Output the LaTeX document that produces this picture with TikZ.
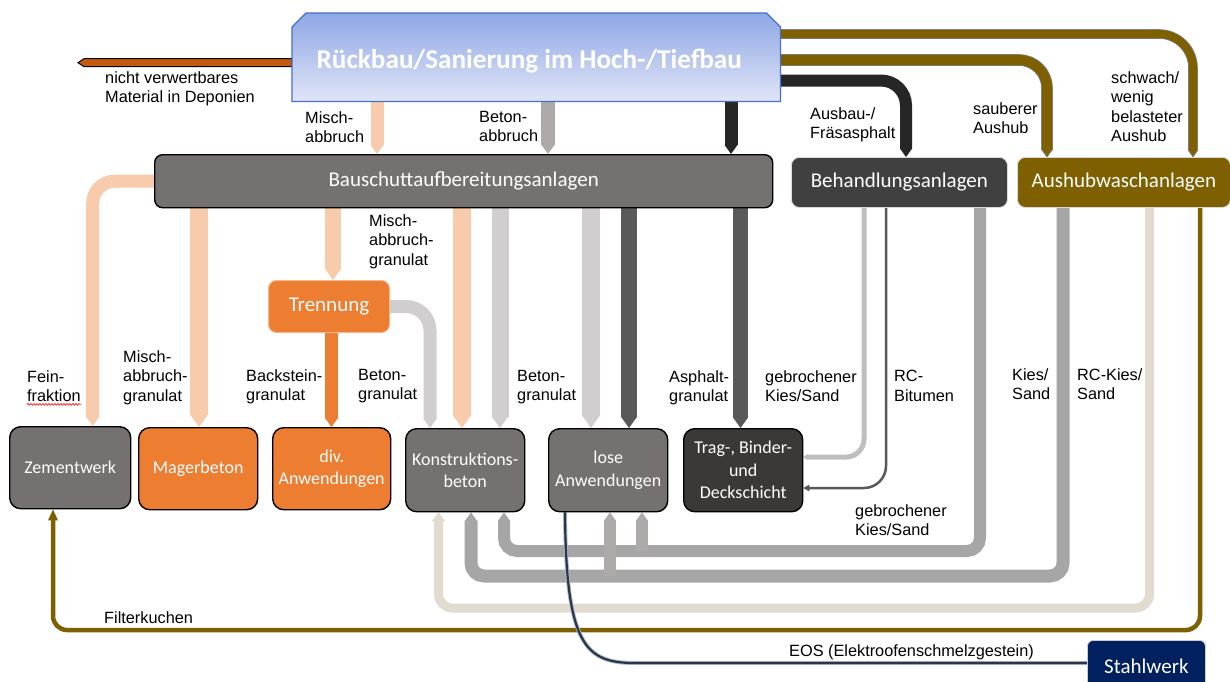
\documentclass[tikz,border=0pt]{standalone}
\usepackage{fontspec}
\setmainfont{Liberation Sans}
\newfontfamily\boxfont{Carlito}
\usetikzlibrary{calc,decorations.pathmorphing}

\definecolor{peach}{HTML}{F8CBAD}
\definecolor{orangeC}{HTML}{ED7D31}
\definecolor{boxgray}{HTML}{767171}
\definecolor{ltgray}{HTML}{D0CECE}
\definecolor{thingray}{HTML}{BFBFBF}
\definecolor{midgray}{HTML}{AEAAAA}
\definecolor{loopgray}{HTML}{A6A6A6}
\definecolor{dk}{HTML}{262626}
\definecolor{dkgray}{HTML}{595959}
\definecolor{behfill}{HTML}{404040}
\definecolor{tragfill}{HTML}{3B3838}
\definecolor{brownC}{HTML}{7F6000}
\definecolor{pipeedge}{HTML}{7F7F7F}
\definecolor{navy}{HTML}{002060}
\definecolor{eos}{HTML}{2B3648}
\definecolor{eosedge}{HTML}{ADB9CA}
\definecolor{beige}{HTML}{E2DCD0}
\definecolor{rust}{HTML}{C55A11}
\definecolor{topA}{HTML}{8FA7E5}
\definecolor{topB}{HTML}{E0E5F7}
\definecolor{topedge}{HTML}{4472C4}

\pgfdeclarelayer{bg}
\pgfdeclarelayer{mid}
\pgfsetlayers{bg,mid,main}

% arrow heads of the broad flow bands: colour, width, length, tip point
\newcommand\tipD[4]{\fill[#1] ($#4+(-#2/2,-#3)$) -- ($#4+(#2/2,-#3)$) -- #4 -- cycle;}
\newcommand\tipU[4]{\fill[#1] ($#4+(-#2/2,#3)$) -- ($#4+(#2/2,#3)$) -- #4 -- cycle;}
\newcommand\tipL[4]{\fill[#1] ($#4+(#3,-#2/2)$) -- ($#4+(#3,#2/2)$) -- #4 -- cycle;}
% head with an outlined rim: fill, rim, width, length, tip point
\newcommand\tipDe[5]{%
  \fill[#1] ($#5+(-#3/2,-#4)$) -- ($#5+(#3/2,-#4)$) -- #5 -- cycle;
  \draw[#2, line width=0.8pt, line join=miter] ($#5+(-#3/2,-#4)$) -- #5 -- ($#5+(#3/2,-#4)$);}
% straight downward band at x=#3 from anchor #4 to anchor #5
\newcommand\fatdn[5]{%
  \pgfmathsetmacro\fatlen{0.7*#2}%
  \pgfmathsetmacro\fatsh{0.7*#2-0.5}%
  \draw[#1, line width=#2pt, shorten >=\fatsh pt] (#4 -| #3,0) -- (#5 -| #3,0);
  \tipD{#1}{#2}{\fatlen}{(#5 -| #3,0)}}

\begin{document}
\begin{tikzpicture}[x=1pt,y=-1pt,
  lab/.style={anchor=north west, inner sep=0pt, align=left,
    font=\fontsize{16.3}{19.5}\selectfont},
  blk/.style={anchor=north west, inner sep=2pt, align=center, text=white,
    font=\boxfont\fontsize{18}{22.5}\selectfont, rounded corners=11pt,
    draw=black, line width=1.4pt},
  hub/.style={anchor=north west, inner sep=2pt, align=center, text=white,
    font=\boxfont\fontsize{21}{24}\selectfont, rounded corners=8pt},
]
\useasboundingbox (0,0) rectangle (1230,681);
\clip (0,0) rectangle (1230,681);

% ---------- plants and consumers ----------
\node[anchor=north west, minimum width=488pt, minimum height=88pt, inner sep=0pt,
  text=white, font=\boxfont\bfseries\fontsize{27.2}{30}\selectfont]
  (top) at (292,13) {\hspace*{-14pt}\raisebox{-11pt}[0pt][0pt]{Rückbau/Sanierung im Hoch-/Tiefbau}};

\node[hub, fill=boxgray, draw=black, line width=1.4pt, minimum width=618pt, minimum height=53pt]
  (bau) at (154,154) {Bauschuttaufbereitungsanlagen};
\node[hub, fill=behfill, draw=white!85!black, line width=0.8pt, minimum width=216pt, minimum height=50pt]
  (beh) at (791,157) {Behandlungsanlagen};
\node[hub, fill=brownC, draw=white!85!black, line width=0.8pt, minimum width=213pt, minimum height=50pt]
  (aus) at (1017,157) {Aushubwaschanlagen};
\node[hub, fill=orangeC, draw=orangeC!55, line width=1pt, minimum width=121pt, minimum height=52pt]
  (tren) at (268,280) {Trennung};

\node[blk, fill=boxgray, minimum width=121pt, minimum height=82pt] (zem) at (9,426) {Zementwerk};
\node[blk, fill=orangeC, minimum width=119pt, minimum height=82pt] (mag) at (138,427) {Magerbeton};
\node[blk, fill=orangeC, minimum width=118pt, minimum height=82pt] (div) at (272,427) {div.\\Anwendungen};
\node[blk, fill=boxgray, minimum width=119pt, minimum height=83pt] (kon) at (405,428) {Konstruktions-\\beton};
\node[blk, fill=boxgray, minimum width=119pt, minimum height=83pt] (los) at (548,428) {lose\\Anwendungen};
\node[blk, fill=tragfill, minimum width=119pt, minimum height=83pt] (trag) at (683,428) {Trag-, Binder-\\und\\Deckschicht};

\node[hub, fill=navy, draw=white!80!black, line width=0.8pt, rounded corners=6pt,
  minimum width=118pt, minimum height=52pt] (stahl) at (1087,640) {Stahlwerk};

% demolition site: box with bevelled upper corners and a blue gradient
\begin{pgfonlayer}{mid}
\path[draw=topedge, line width=1.2pt, top color=topA, bottom color=topB]
  (top.south west) -- ($(top.north west)+(0,14)$) -- ($(top.north west)+(14,0)$)
  -- ($(top.north east)+(-14,0)$) -- ($(top.north east)+(0,14)$) -- (top.south east) -- cycle;
\end{pgfonlayer}

% ---------- material flows ----------
\begin{pgfonlayer}{bg}
\fill[white] (0,0) rectangle (1230,681);

% not recyclable, to landfill
\coordinate (dep) at (78,62.7);
\filldraw[fill=rust, draw=black, line width=1pt]
  (top.west |- 0,58.7) -- (84,58.7) -- (dep) -- (84,66.7) -- (top.west |- 0,66.7) -- cycle;

% demolition to the processing plant
\fatdn{peach}{13}{377}{top.south}{bau.north}
\fatdn{midgray}{14}{548}{top.south}{bau.north}
\fatdn{dk}{13}{731}{top.south}{bau.north}

% milled asphalt and excavation
\draw[dk, line width=12pt, rounded corners=25pt, shorten >=7.9pt]
  (top.east |- 0,80.5) -- (906,80.5) -- (beh.north -| 906,0);
\tipD{dk}{12}{8.4}{(beh.north -| 906,0)}
\draw[draw=pipeedge, line width=0.8pt, double=brownC, double distance=10pt,
  rounded corners=28pt, shorten >=7pt]
  (top.east |- 0,60) -- (1047,60) -- (aus.north -| 1047,0);
\tipDe{brownC}{pipeedge}{11.6}{8}{(aus.north -| 1047,0)}
\draw[draw=pipeedge, line width=0.8pt, double=brownC, double distance=8pt,
  rounded corners=34pt, shorten >=6pt]
  (top.east |- 0,34) -- (1193,34) -- (aus.north -| 1193,0);
\tipDe{brownC}{pipeedge}{9.6}{7}{(aus.north -| 1193,0)}

% fine fraction to the cement plant
\draw[peach, line width=13pt, rounded corners=22pt, shorten >=8.6pt]
  (bau.west) -- (bau.west -| 92.7,0) -- (zem.north -| 92.7,0);
\tipD{peach}{13}{9.1}{(zem.north -| 92.7,0)}

% recycled aggregates
\fatdn{peach}{18}{199}{bau.south}{mag.north}
\fatdn{peach}{16}{333}{bau.south}{tren.north}
\fatdn{orangeC}{13}{331.5}{tren.south}{div.north}
\draw[ltgray, line width=13pt, rounded corners=24pt, shorten >=8.6pt]
  (tren.east) -- (tren.east -| 430,0) -- (kon.north -| 430,0);
\tipD{ltgray}{13}{9.1}{(kon.north -| 430,0)}
\fatdn{peach}{18}{462}{bau.south}{kon.north}
\fatdn{ltgray}{17}{500}{bau.south}{kon.north}
\fatdn{ltgray}{18}{591}{bau.south}{los.north}
\fatdn{dkgray}{16}{629}{bau.south}{los.north}
\fatdn{dkgray}{15}{740.5}{bau.south}{trag.north}

% treatment plant to asphalt layers
\draw[thingray, line width=5pt, rounded corners=18pt, shorten >=3.5pt]
  (beh.south -| 864,0) -- (864,457) -- (trag.east |- 0,457);
\tipL{thingray}{6}{4}{(trag.east |- 0,457)}
\draw[dkgray, line width=2.5pt, rounded corners=22pt, shorten >=5pt]
  (beh.south -| 886,0) -- (886,488) -- (trag.east |- 0,488);
\tipL{dkgray}{7}{6}{(trag.east |- 0,488)}

% return loops below the consumers
\draw[beige, line width=9pt, rounded corners=14pt, shorten >=8pt]
  (aus.south -| 1149.5,0) -- (1149.5,608) -- (438.5,608) -- (kon.south -| 438.5,0);
\tipU{beige}{14}{9}{(kon.south -| 438.5,0)}
\draw[loopgray, line width=13pt, rounded corners=13pt, shorten >=8.6pt]
  (aus.south -| 1063,0) -- (1063,576) -- (471,576) -- (kon.south -| 471,0);
\tipU{loopgray}{13}{9.1}{(kon.south -| 471,0)}
\draw[loopgray, line width=12pt, rounded corners=13pt, shorten >=8pt]
  (beh.south -| 980,0) -- (980,551) -- (504,551) -- (kon.south -| 504,0);
\tipU{loopgray}{12}{8.4}{(kon.south -| 504,0)}
\coordinate (j1) at (642,551);
\coordinate (j2) at (610,576);
\draw[midgray, line width=12pt, shorten >=8pt] (j1) -- (los.south -| 642,0);
\tipU{midgray}{12}{8.4}{(los.south -| 642,0)}
\draw[midgray, line width=12pt, shorten >=8pt] (j2) -- (los.south -| 610,0);
\tipU{midgray}{12}{8.4}{(los.south -| 610,0)}

% filter cake back to the cement plant
\draw[brownC, line width=4.5pt, rounded corners=14pt, shorten >=10pt]
  (aus.south -| 1200,0) -- (1200,630) -- (53,630) -- (zem.south -| 53,0);
\tipU{brownC}{10}{11}{(zem.south -| 53,0)}

% slag from the steel works
\draw[draw=eosedge, line width=0.9pt, double=eos, double distance=2.2pt]
  (los.south -| 565,0) .. controls (566,645) and (585,663) .. (635,663) -- (stahl.west |- 0,663);
\end{pgfonlayer}

% ---------- flow labels ----------
\node[lab] (lnvm) at (105,71) {nicht verwertbares\\Material in Deponien};
\node[lab] (lmab) at (305,111) {Misch-\\abbruch};
\node[lab] (lbab) at (479,111) {Beton-\\abbruch};
\node[lab] (lfra) at (810,107) {Ausbau-/\\Fräsasphalt};
\node[lab] (lsau) at (973,102) {sauberer\\Aushub};
\node[lab] (lsch) at (1111,71) {schwach/\\wenig\\belasteter\\Aushub};
\node[lab] (lmg1) at (369,214) {Misch-\\abbruch-\\granulat};
\node[lab] (lfein) at (27,370) {Fein-\\fraktion};
\node[lab] (lmg2) at (123,350) {Misch-\\abbruch-\\granulat};
\node[lab] (lbst) at (246,369) {Backstein-\\granulat};
\node[lab] (lbg1) at (358,369) {Beton-\\granulat};
\node[lab] (lbg2) at (517,370) {Beton-\\granulat};
\node[lab] (lasp) at (669,370) {Asphalt-\\granulat};
\node[lab] (lgb1) at (765,370) {gebrochener\\Kies/Sand};
\node[lab] (lrcb) at (894,370) {RC-\\Bitumen};
\node[lab] (lkie) at (1012,368) {Kies/\\Sand};
\node[lab] (lrck) at (1077,368) {RC-Kies/\\Sand};
\node[lab] (lgb2) at (855,504) {gebrochener\\Kies/Sand};
\node[lab] (lfil) at (104,611) {Filterkuchen};
\node[lab] (leos) at (789,644) {EOS (Elektroofenschmelzgestein)};

% spelling squiggle under "fraktion"
\draw[red, line width=0.6pt, decorate, decoration={snake, amplitude=0.9pt, segment length=3pt}]
  ($(lfein.south west)+(0,2.5)$) -- ($(lfein.south east)+(0,2.5)$);
\end{tikzpicture}
\end{document}
